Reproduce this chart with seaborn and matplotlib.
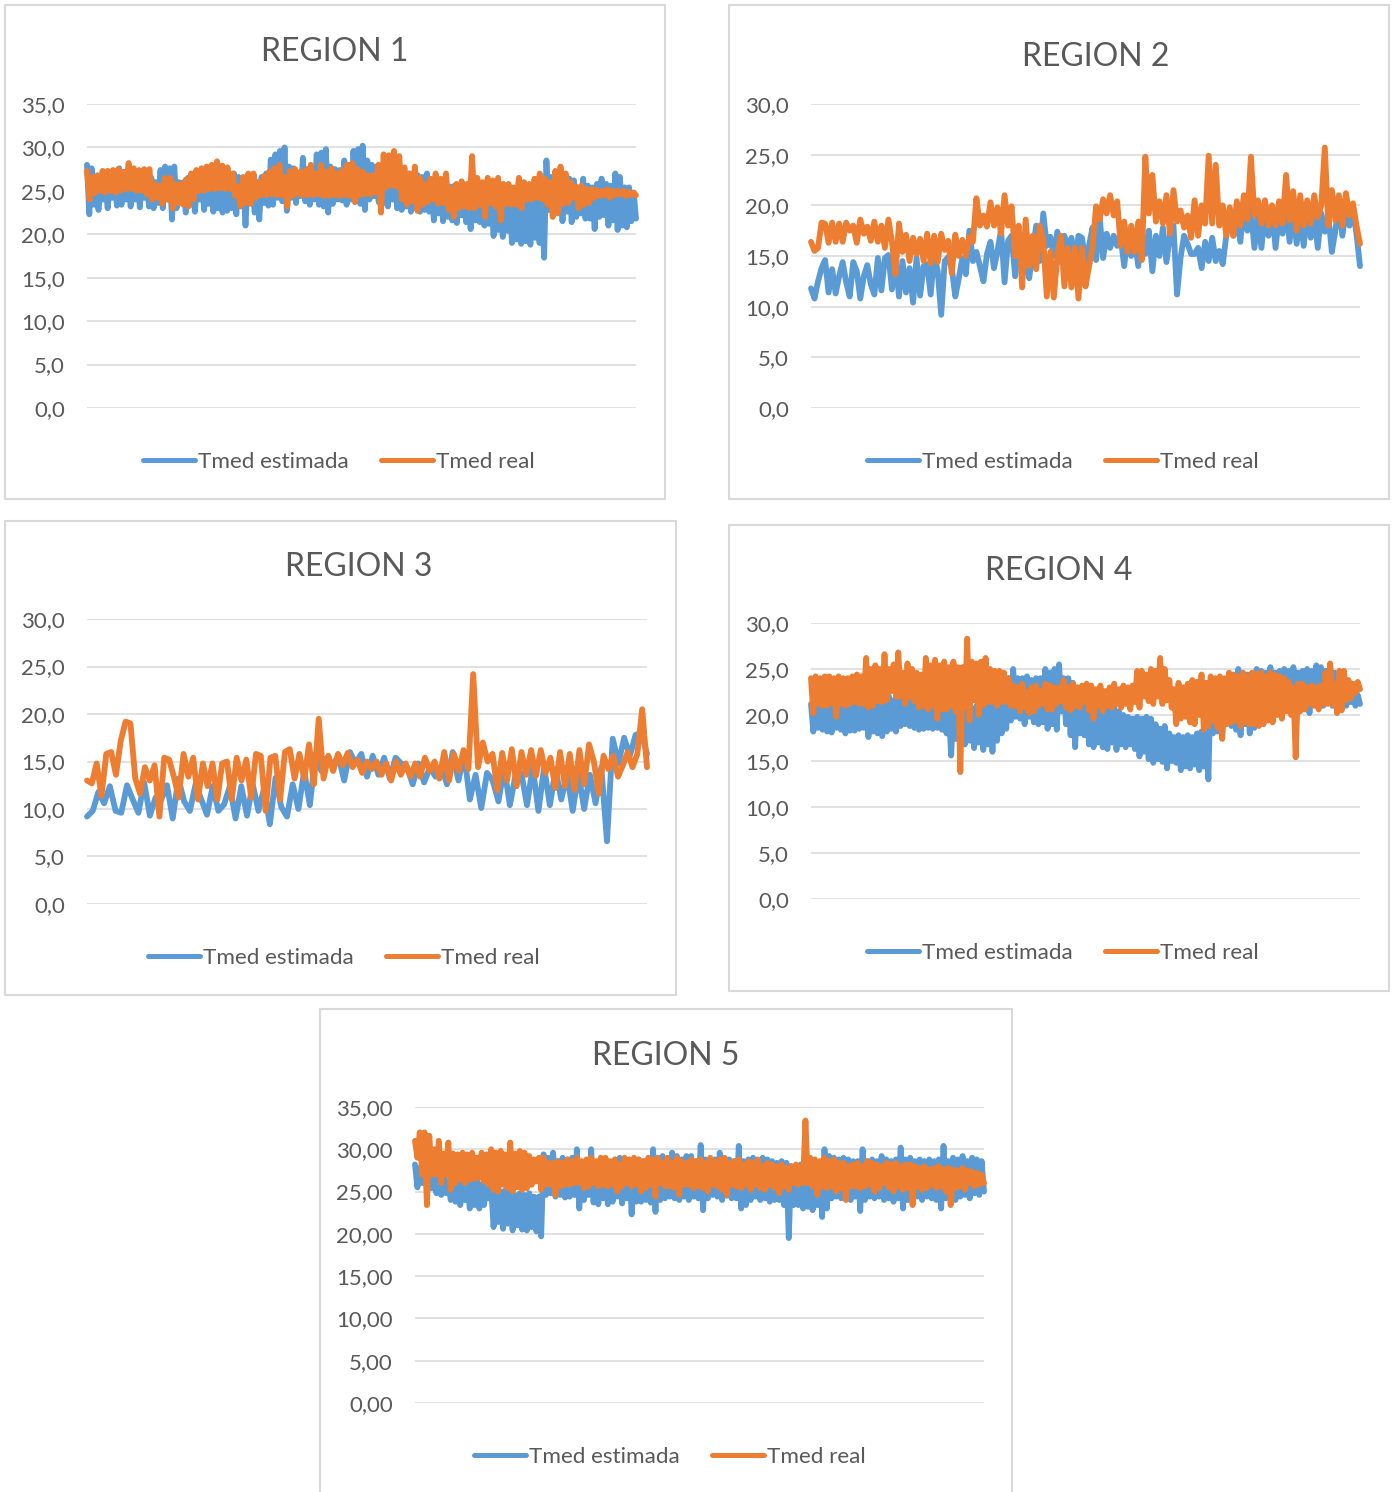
import matplotlib
matplotlib.use("Agg")
import numpy as np
import pandas as pd
import matplotlib.pyplot as plt
import seaborn as sns
from matplotlib.patches import Rectangle

W, H = 1398, 1492

r1_est = [28.0,22.3,27.6,23.4,26.2,22.8,25.6,24.0,25.8,23.0,26.4,24.2,26.8,23.3,27.6,23.4,27.2,24.0,26.5,23.2,27.0,24.0,26.5,23.1,26.8,24.2,26.0,23.2,26.5,23.0,26.0,23.6,27.4,23.0,27.8,24.0,27.6,21.7,27.8,23.0,
    26.0,23.6,26.0,22.5,26.5,23.4,26.0,22.6,26.5,24.0,26.4,22.8,26.8,23.5,26.6,22.6,26.2,23.0,26.3,22.5,26.0,22.7,25.8,23.0,27.0,22.3,26.6,23.8,26.5,21.0,26.4,23.6,25.8,22.5,26.0,21.7,26.6,23.6,27.0,23.3,
    28.6,23.4,29.2,24.2,29.6,23.8,30.0,22.7,27.8,24.2,27.6,23.6,27.0,24.4,28.8,23.8,27.5,23.4,27.0,24.0,29.2,23.4,29.4,23.2,29.8,22.5,27.8,23.5,27.5,24.0,27.4,23.9,28.5,23.4,28.0,24.0,29.6,24.4,29.8,23.5,
    30.2,22.8,28.5,24.0,28.0,24.4,27.8,23.7,27.8,23.6,26.6,23.2,26.8,24.0,27.0,23.0,26.8,22.8,26.6,23.2,27.0,22.6,26.5,23.0,26.8,22.6,26.6,22.8,27.0,22.6,25.8,21.6,25.5,22.4,25.8,21.5,25.4,22.0,25.5,21.6,
    25.6,21.3,25.2,22.2,25.3,21.4,25.0,20.6,25.4,21.6,25.2,21.4,25.0,21.0,24.6,21.2,24.6,19.8,25.0,20.5,25.0,19.7,24.4,20.4,24.2,19.0,24.6,19.4,24.4,18.9,24.2,19.2,24.0,18.8,24.2,19.6,24.2,19.0,24.0,17.3,
    28.5,22.8,26.6,23.0,26.4,23.6,26.2,21.5,26.0,22.6,26.4,21.4,26.2,22.0,25.0,22.4,26.4,21.8,25.6,21.8,25.4,20.6,25.8,22.0,26.4,22.2,25.8,21.0,25.6,21.6,27.0,20.5,26.6,21.0,25.4,20.8,25.4,21.5,24.8,21.8]
r1_real = [27.3,24.0,26.6,24.7,26.8,25.0,27.3,24.8,27.3,25.0,27.4,24.8,27.5,25.0,27.2,25.2,28.2,25.2,27.6,25.0,27.4,25.0,27.5,24.6,27.5,24.0,25.8,24.2,25.6,23.5,26.5,24.0,26.5,23.0,25.8,23.6,25.8,23.4,26.3,23.2,
    27.0,24.0,27.4,25.0,27.6,25.0,27.8,25.2,28.0,25.2,28.4,25.3,27.9,25.2,27.7,25.2,27.0,24.4,25.5,23.2,26.6,23.6,27.0,23.5,27.0,24.2,26.0,24.5,26.7,24.5,27.2,24.6,27.6,24.5,28.0,24.5,26.6,23.2,27.3,24.4,
    27.5,24.6,27.2,24.5,27.4,24.5,28.0,24.5,27.0,24.6,28.0,24.4,27.2,24.4,27.6,24.5,27.0,24.4,27.4,24.5,28.0,24.4,28.2,23.7,27.5,24.5,27.2,24.6,26.8,24.6,26.8,24.8,28.0,22.5,29.2,25.4,29.1,25.6,29.6,25.5,
    29.0,24.0,27.7,23.4,27.0,23.8,27.8,22.7,26.5,23.4,25.8,23.7,26.4,24.0,27.0,23.5,26.4,23.6,27.0,22.8,25.3,22.0,25.8,23.0,26.1,23.2,25.8,23.0,29.0,23.0,26.5,23.4,26.0,22.0,26.5,23.6,26.2,23.2,26.5,21.6,
    25.8,23.5,25.8,23.4,25.4,23.4,26.5,23.0,26.0,24.0,25.8,24.0,26.4,24.2,27.0,24.0,26.4,23.4,26.0,22.0,27.3,22.4,27.8,23.5,27.0,23.6,26.0,24.2,25.5,23.0,25.6,23.4,25.2,23.6,25.2,24.2,25.1,24.4,25.0,24.5,
    25.2,24.2,25.0,24.5,25.0,24.6,25.0,24.4,24.9,24.5,24.8,24.5]

r2_est = [11.8,10.8,12.5,13.8,14.6,11.4,13.7,11.3,13.0,14.4,12.4,11.0,14.4,13.5,10.8,13.0,14.1,12.2,11.2,14.8,11.6,14.8,15.1,11.7,14.9,11.0,14.5,11.4,13.8,10.4,14.8,11.1,14.0,14.2,11.2,15.1,13.5,9.2,14.5,14.9,13.8,11.0,12.8,14.8,13.2,17.5,14.5,15.4,14.0,12.5,15.2,16.4,13.8,15.5,17.6,12.4,16.5,17.0,13.0,16.8,17.0,14.2,12.8,15.5,18.0,14.5,19.2,16.0,16.9,15.0,17.4,14.4,17.0,15.5,16.8,14.2,17.0,16.8,14.4,16.0,17.8,14.6,19.0,14.8,17.2,15.8,17.0,16.0,16.8,14.0,17.2,15.0,16.5,14.0,17.4,15.2,17.5,13.5,17.0,15.0,17.8,14.4,17.0,18.0,11.2,14.8,17.0,16.2,15.2,15.2,15.8,13.8,16.4,14.5,16.8,14.5,15.5,14.2,17.0,19.2,17.0,18.8,16.4,20.0,17.5,19.5,15.8,18.8,15.8,19.5,17.0,19.8,15.8,19.0,17.2,19.8,16.4,19.6,16.2,19.0,16.0,19.5,16.8,19.0,15.8,19.2,17.4,19.0,15.4,17.5,20.2,17.0,19.8,18.0,19.5,17.2,14.0]
r2_real = [16.4,15.5,15.8,18.3,18.2,16.3,18.3,16.4,18.2,16.4,18.3,17.5,18.0,16.3,18.6,17.2,17.9,16.5,18.4,16.4,18.0,15.8,18.6,16.4,13.2,18.2,15.4,17.1,14.5,16.8,15.2,16.7,14.5,17.2,14.3,17.0,14.4,17.2,15.6,16.5,13.3,17.1,15.0,16.6,15.0,16.9,16.4,20.7,18.0,19.0,17.9,20.3,18.0,19.8,17.2,21.0,18.0,19.9,15.0,18.0,11.9,18.6,14.0,17.0,13.7,18.0,16.6,11.0,15.4,10.9,15.0,17.0,12.0,15.8,11.9,15.8,10.8,15.8,12.0,14.0,15.8,19.9,18.6,20.6,19.2,21.0,19.0,20.4,16.0,18.4,15.4,18.0,15.4,18.4,14.6,24.8,19.2,23.0,18.4,20.4,18.2,21.0,17.2,21.5,18.4,19.5,17.8,19.0,16.8,20.5,17.0,20.0,18.2,24.9,18.2,24.0,18.0,20.0,17.0,19.8,17.0,20.4,18.0,21.0,18.6,24.8,19.0,20.5,18.2,20.5,18.0,20.0,18.0,20.4,18.2,23.0,18.5,21.4,17.5,21.0,18.0,20.5,18.2,21.0,18.8,20.0,25.7,18.0,21.5,18.5,21.0,18.0,21.2,19.0,20.2,18.0,16.2]

r3_est = [9.2,9.8,11.8,10.6,12.4,9.8,9.6,12.5,11.0,9.6,12.8,9.3,11.2,11.0,12.5,9.0,13.2,10.8,9.8,12.6,11.0,9.4,12.4,9.8,10.5,12.4,9.0,12.4,9.3,12.6,9.8,12.2,8.4,13.3,10.2,9.2,12.6,10.0,14.0,10.4,15.8,14.0,15.4,14.6,15.6,13.0,16.0,14.8,15.8,13.4,15.6,13.6,15.4,13.2,15.4,14.8,14.4,12.6,14.8,12.8,14.4,13.4,14.5,12.6,16.0,13.0,15.8,11.0,13.6,10.1,13.8,13.0,10.8,14.4,10.4,13.6,13.8,10.4,14.4,9.8,14.4,10.4,14.2,11.0,13.6,9.8,13.8,10.0,13.6,10.6,14.4,6.6,17.4,14.8,17.5,15.6,17.8,18.0,15.8]
r3_real = [13.0,12.7,14.8,11.4,15.8,16.0,13.6,17.2,19.2,19.0,13.2,11.6,14.4,13.0,14.6,9.2,15.4,15.2,13.4,11.2,15.8,13.4,15.4,11.0,14.8,12.4,14.8,11.0,14.8,15.0,11.0,15.4,13.0,15.2,11.2,15.8,15.6,9.8,15.4,15.6,11.0,16.0,16.3,13.2,15.8,13.2,16.8,12.6,19.5,13.2,15.6,14.0,15.8,14.6,15.9,14.4,15.2,13.8,15.0,14.2,15.0,13.6,14.8,13.0,15.0,13.6,14.8,13.4,14.8,13.4,15.4,14.0,15.0,13.2,16.0,13.0,15.8,14.0,16.2,14.2,24.2,14.4,17.0,15.0,15.8,12.0,15.9,13.0,16.3,12.4,16.0,13.6,16.2,13.5,16.2,13.8,15.4,12.2,16.0,12.4,15.8,12.0,16.2,12.6,16.8,15.0,11.6,15.6,14.2,15.6,13.4,14.6,16.0,14.4,15.8,20.5,14.4]

r4_est = [21.2,18.2,21.4,18.6,21.5,18.4,21.0,18.2,21.4,18.1,21.2,18.6,21.6,18.4,21.2,18.0,21.0,18.3,21.4,18.3,21.6,18.5,21.2,18.6,22.0,17.6,21.4,18.2,22.0,18.0,22.4,17.7,21.8,18.2,22.0,18.5,21.6,18.2,21.5,18.8,
    22.0,19.0,21.6,18.8,21.5,18.6,21.4,18.4,21.3,18.5,21.0,18.6,21.3,18.5,20.8,18.6,20.5,18.4,21.0,18.0,20.6,15.6,20.8,17.4,20.6,17.0,20.5,16.8,20.4,17.2,20.6,16.4,21.0,17.0,20.8,16.2,21.2,16.8,22.0,16.0,
    22.6,17.2,23.0,18.0,23.4,18.5,24.0,19.4,25.0,19.8,24.0,19.6,24.0,19.0,24.2,19.8,23.8,19.2,24.0,19.0,24.0,19.2,25.0,18.5,24.6,19.0,25.0,18.4,25.5,20.4,24.0,19.0,24.0,17.8,23.5,16.5,23.0,18.0,21.5,17.8,
    21.8,16.8,21.5,16.5,21.2,17.0,21.0,16.5,20.6,16.3,20.8,17.0,21.0,16.2,20.4,16.8,20.0,16.5,19.8,16.8,19.6,16.3,19.8,15.5,19.6,16.0,19.8,15.2,19.6,14.8,19.0,15.2,18.5,14.9,18.8,14.2,18.0,15.0,17.6,14.8,
    17.8,14.0,17.6,14.4,17.8,14.2,17.6,14.6,18.0,14.0,18.2,14.4,18.0,13.0,23.5,18.0,23.8,18.2,24.0,17.5,23.8,19.4,24.0,18.8,24.2,18.4,25.0,17.8,24.6,19.0,24.4,18.0,24.4,18.6,25.0,19.2,24.8,20.0,24.6,19.8,
    25.2,20.2,24.6,20.5,24.8,20.2,25.0,21.0,24.8,21.0,25.2,21.2,24.6,20.6,24.8,21.0,25.0,20.2,24.8,21.2,25.4,21.4,25.2,21.0,24.8,21.6,25.4,21.0,24.6,21.4,23.8,21.8,23.4,21.0,23.0,21.4,22.5,21.0,22.2,21.2]
r4_real = [24.0,20.2,24.2,21.2,24.0,21.0,24.2,21.0,24.2,21.3,24.0,19.8,24.2,21.2,24.0,21.0,24.0,21.2,24.2,21.4,24.4,21.2,24.2,21.2,26.2,20.8,25.0,21.0,25.4,21.5,25.0,21.4,26.6,21.6,25.0,22.6,25.5,22.0,26.8,22.0,
    24.6,21.2,25.6,22.0,25.0,21.5,24.6,20.8,24.4,21.0,26.2,20.6,25.4,21.0,26.0,19.6,25.4,20.6,25.8,20.6,25.2,21.0,25.8,20.4,25.2,13.8,25.2,20.8,28.3,19.4,25.8,21.6,25.6,20.0,25.8,21.0,26.2,21.4,25.0,21.4,
    24.8,21.0,24.8,21.4,24.6,21.4,24.0,21.0,23.2,21.0,23.0,20.4,23.4,20.8,22.5,20.2,23.0,20.4,23.2,21.0,22.6,21.2,23.4,20.6,23.2,20.6,23.0,21.2,23.0,21.5,23.8,20.8,23.0,20.5,23.4,21.0,23.0,20.8,23.2,21.4,
    23.4,20.5,23.2,19.6,22.8,21.0,23.2,20.4,22.6,21.0,23.0,20.8,23.4,21.2,22.8,20.8,23.2,21.2,23.0,20.6,23.2,21.4,24.8,20.8,24.8,22.0,24.4,21.5,25.0,21.2,24.8,22.0,26.2,21.2,25.0,21.6,23.8,20.8,22.8,19.0,
    23.5,19.6,23.0,19.8,23.4,19.2,23.8,19.0,23.6,20.0,24.4,18.4,23.5,18.8,24.2,19.4,24.0,18.6,24.2,17.4,24.0,19.0,24.6,19.2,24.4,19.4,24.2,18.8,24.6,19.2,24.2,19.0,24.6,19.0,24.5,18.8,24.6,19.0,24.2,19.4,
    24.6,19.2,24.4,20.0,24.2,19.6,24.0,20.4,23.6,20.0,23.0,15.4,23.4,20.4,23.4,20.6,23.0,21.2,23.2,21.0,23.0,20.6,23.2,21.2,24.6,21.2,25.6,21.2,23.4,20.2,24.8,20.5,24.8,21.6,23.8,21.8,23.4,22.4,23.6,22.8]

r5_est = [28.2,25.5,27.8,26.0,28.5,25.2,27.0,25.4,26.8,24.8,27.0,24.6,26.8,24.8,26.2,24.0,26.0,23.8,26.0,23.4,26.2,24.0,26.0,23.0,26.2,23.4,26.3,23.0,25.9,23.4,26.0,24.2,25.6,20.8,25.2,21.4,25.0,20.6,25.2,21.2,
    24.8,20.4,24.6,21.0,24.8,20.5,24.6,20.4,24.8,20.8,24.4,20.3,24.4,19.7,29.4,24.6,29.0,24.8,29.6,24.4,28.6,24.6,29.0,24.3,28.8,24.4,29.0,24.6,30.0,23.0,28.2,24.0,28.4,24.6,30.0,23.7,28.4,23.5,28.6,24.2,
    28.6,23.5,28.5,23.8,28.8,24.4,29.0,23.6,28.8,24.2,28.8,22.3,28.6,23.8,28.8,23.8,28.6,24.0,28.6,23.7,30.0,22.6,29.0,24.0,29.2,24.2,28.8,24.4,29.6,24.2,29.2,24.0,28.8,24.4,29.2,24.0,29.2,24.4,28.6,24.2,
    30.5,22.8,28.8,24.2,28.6,24.6,28.8,24.4,29.6,24.0,28.5,24.5,28.8,24.2,28.6,24.2,30.4,23.0,28.6,23.4,28.8,24.0,29.0,24.4,28.6,24.0,29.0,24.2,28.8,23.8,28.6,24.0,28.4,24.0,28.6,23.4,28.4,19.5,28.0,23.4,
    28.0,23.4,28.2,23.0,27.6,23.2,27.8,22.8,27.8,23.4,28.0,22.0,30.0,23.0,29.2,24.2,29.0,24.4,28.8,24.2,29.0,24.4,28.8,24.0,28.6,24.4,28.6,22.7,30.0,24.0,28.6,24.4,28.8,24.2,28.6,24.4,29.2,24.0,28.8,24.2,
    28.6,23.8,28.8,24.2,30.2,23.0,28.8,24.0,29.0,24.5,28.6,24.4,28.8,24.0,28.6,24.4,28.8,24.2,28.6,24.0,28.8,23.0,30.4,24.2,28.6,24.6,29.0,24.0,28.8,24.4,29.2,24.6,28.6,24.2,29.0,24.8,28.8,24.6,28.6,25.0]
r5_real = [31.0,29.0,32.0,27.0,32.0,23.4,31.6,27.0,30.0,27.0,31.0,26.0,29.5,27.0,30.8,25.2,29.5,26.0,29.4,26.4,29.6,26.0,29.4,26.4,29.6,26.5,29.0,26.6,29.6,26.2,29.4,25.8,30.0,25.2,29.6,25.0,29.8,25.8,29.4,25.4,
    30.8,25.0,29.5,25.5,29.8,25.2,29.6,25.4,29.2,25.8,28.8,26.2,29.0,25.2,29.0,25.8,28.4,25.8,28.4,24.6,28.6,25.6,28.4,25.8,28.8,25.8,28.6,26.0,29.0,26.0,28.6,25.4,28.8,25.6,29.0,26.0,28.6,25.6,29.0,25.8,
    29.0,25.6,28.6,25.8,28.8,25.0,28.2,25.6,29.0,26.0,28.8,25.6,29.0,25.8,28.8,25.0,28.6,25.4,29.0,25.8,28.8,24.4,29.0,26.0,28.4,25.6,29.0,25.6,28.4,25.4,29.0,24.6,28.6,25.8,28.4,25.8,28.8,25.4,28.6,25.6,
    28.8,25.4,28.4,25.0,29.0,25.8,28.6,25.6,28.8,25.2,29.0,24.6,28.4,25.8,28.6,25.6,28.8,25.4,28.2,25.8,28.6,25.2,28.4,25.8,28.8,25.4,28.0,25.2,28.4,25.8,28.2,25.4,28.0,24.8,28.2,25.6,27.8,25.2,28.0,26.0,
    28.2,25.8,28.0,26.0,33.4,26.0,29.0,25.6,28.8,24.6,28.6,25.6,29.0,25.4,28.6,25.6,28.8,25.0,28.4,25.4,28.4,24.0,28.0,25.6,28.2,25.6,28.4,25.4,28.0,25.6,28.6,25.8,28.4,25.0,28.2,25.4,28.0,26.0,28.4,25.5,
    28.2,25.0,28.4,25.6,28.0,25.2,28.2,25.4,28.2,23.4,28.0,25.6,27.8,25.2,28.0,25.4,27.6,25.8,27.8,25.4,28.0,25.6,27.6,25.0,27.8,23.4,27.6,25.4,27.5,25.6,27.8,25.2,27.5,26.0,27.4,25.6,27.2,25.8,27.0,26.0]

titles = ["REGION 1", "REGION 2", "REGION 3", "REGION 4", "REGION 5"]
ticks = [[0,5,10,15,20,25,30,35], [0,5,10,15,20,25,30], [0,5,10,15,20,25,30], [0,5,10,15,20,25,30], [0,5,10,15,20,25,30,35]]
decimals = [1, 1, 1, 1, 2]
series_est = [r1_est, r2_est, r3_est, r4_est, r5_est]
series_real = [r1_real, r2_real, r3_real, r4_real, r5_real]

# pixel layout: frame (x0,y0,x1,y1), plot (x0,y_top,x1,y_bottom), title and legend centres
frames = [(5,5,665,499), (729,5,1389,499), (5,521,676,995), (729,525,1389,991), (320,1009,1012,1500)]
plots = [(87,104,636,408), (811,104,1360,408), (87,619,647,904), (811,623,1360,899), (415,1107,984,1403)]
title_x = [335, 1096, 359, 1059, 666]
title_y = [52, 57, 567, 571, 1056]
legend_y = [461.5, 461.5, 958, 953, 1457]
legend_x = [339, 1063, 344, 1063, 670]

BLUE = "#5B9BD5"
ORANGE = "#ED7D31"
GRID = "#D9D9D9"
TEXT = "#595959"

sns.set_theme(style="white")
plt.rcParams['font.family'] = ['Lato', 'DejaVu Sans']
fig = plt.figure(figsize=(W/100, H/100), dpi=100)

for i in range(5):
    fx0, fy0, fx1, fy1 = frames[i]
    fig.add_artist(Rectangle((fx0/W, 1-fy1/H), (fx1-fx0)/W, (fy1-fy0)/H, fc='none', ec=GRID,
                             lw=1.5, zorder=-1, transform=fig.transFigure))
    px0, py0, px1, py1 = plots[i]
    ax = fig.add_axes([px0/W, 1-py1/H, (px1-px0)/W, (py1-py0)/H])
    ax.patch.set_alpha(0)

    df_est = pd.DataFrame({'pos': np.linspace(0, 1, len(series_est[i])), 'Tmed': series_est[i], 'serie': 'Tmed estimada'})
    df_real = pd.DataFrame({'pos': np.linspace(0, 1, len(series_real[i])), 'Tmed': series_real[i], 'serie': 'Tmed real'})
    df = pd.concat([df_est, df_real])
    sns.lineplot(data=df, x='pos', y='Tmed', hue='serie', palette=[BLUE, ORANGE], estimator=None, errorbar=None,
                 linewidth=4.2, solid_joinstyle='round', solid_capstyle='round', clip_on=False, ax=ax)

    ax.set_xlim(0, 1)
    ax.set_ylim(0, ticks[i][-1])
    ax.set_yticks(ticks[i])
    ax.set_yticklabels([f"{t:.{decimals[i]}f}".replace('.', ',') for t in ticks[i]], color=TEXT, fontsize=16,
                       va='center_baseline')
    ax.set_xticks([])
    ax.set_xlabel('')
    ax.set_ylabel('')
    ax.tick_params(axis='y', length=0, pad=16)
    ax.grid(axis='y', color=GRID, lw=1.1)
    ax.set_axisbelow(True)
    for s in ax.spines.values():
        s.set_visible(False)

    fig.text(title_x[i]/W, 1-title_y[i]/H, titles[i], color=TEXT, fontsize=23, ha='center', va='center')

    handles, labels = ax.get_legend_handles_labels()
    leg = ax.legend(handles, labels, ncol=2, frameon=False, loc='center', bbox_to_anchor=(legend_x[i]/W, 1-legend_y[i]/H),
                    bbox_transform=fig.transFigure, fontsize=16.2, labelcolor=TEXT, handlelength=2.3, handletextpad=0.15,
                    columnspacing=1.45, borderpad=0)
    for h in leg.get_lines():
        h.set_linewidth(3.6)

fig.savefig('out.png', dpi=100)
